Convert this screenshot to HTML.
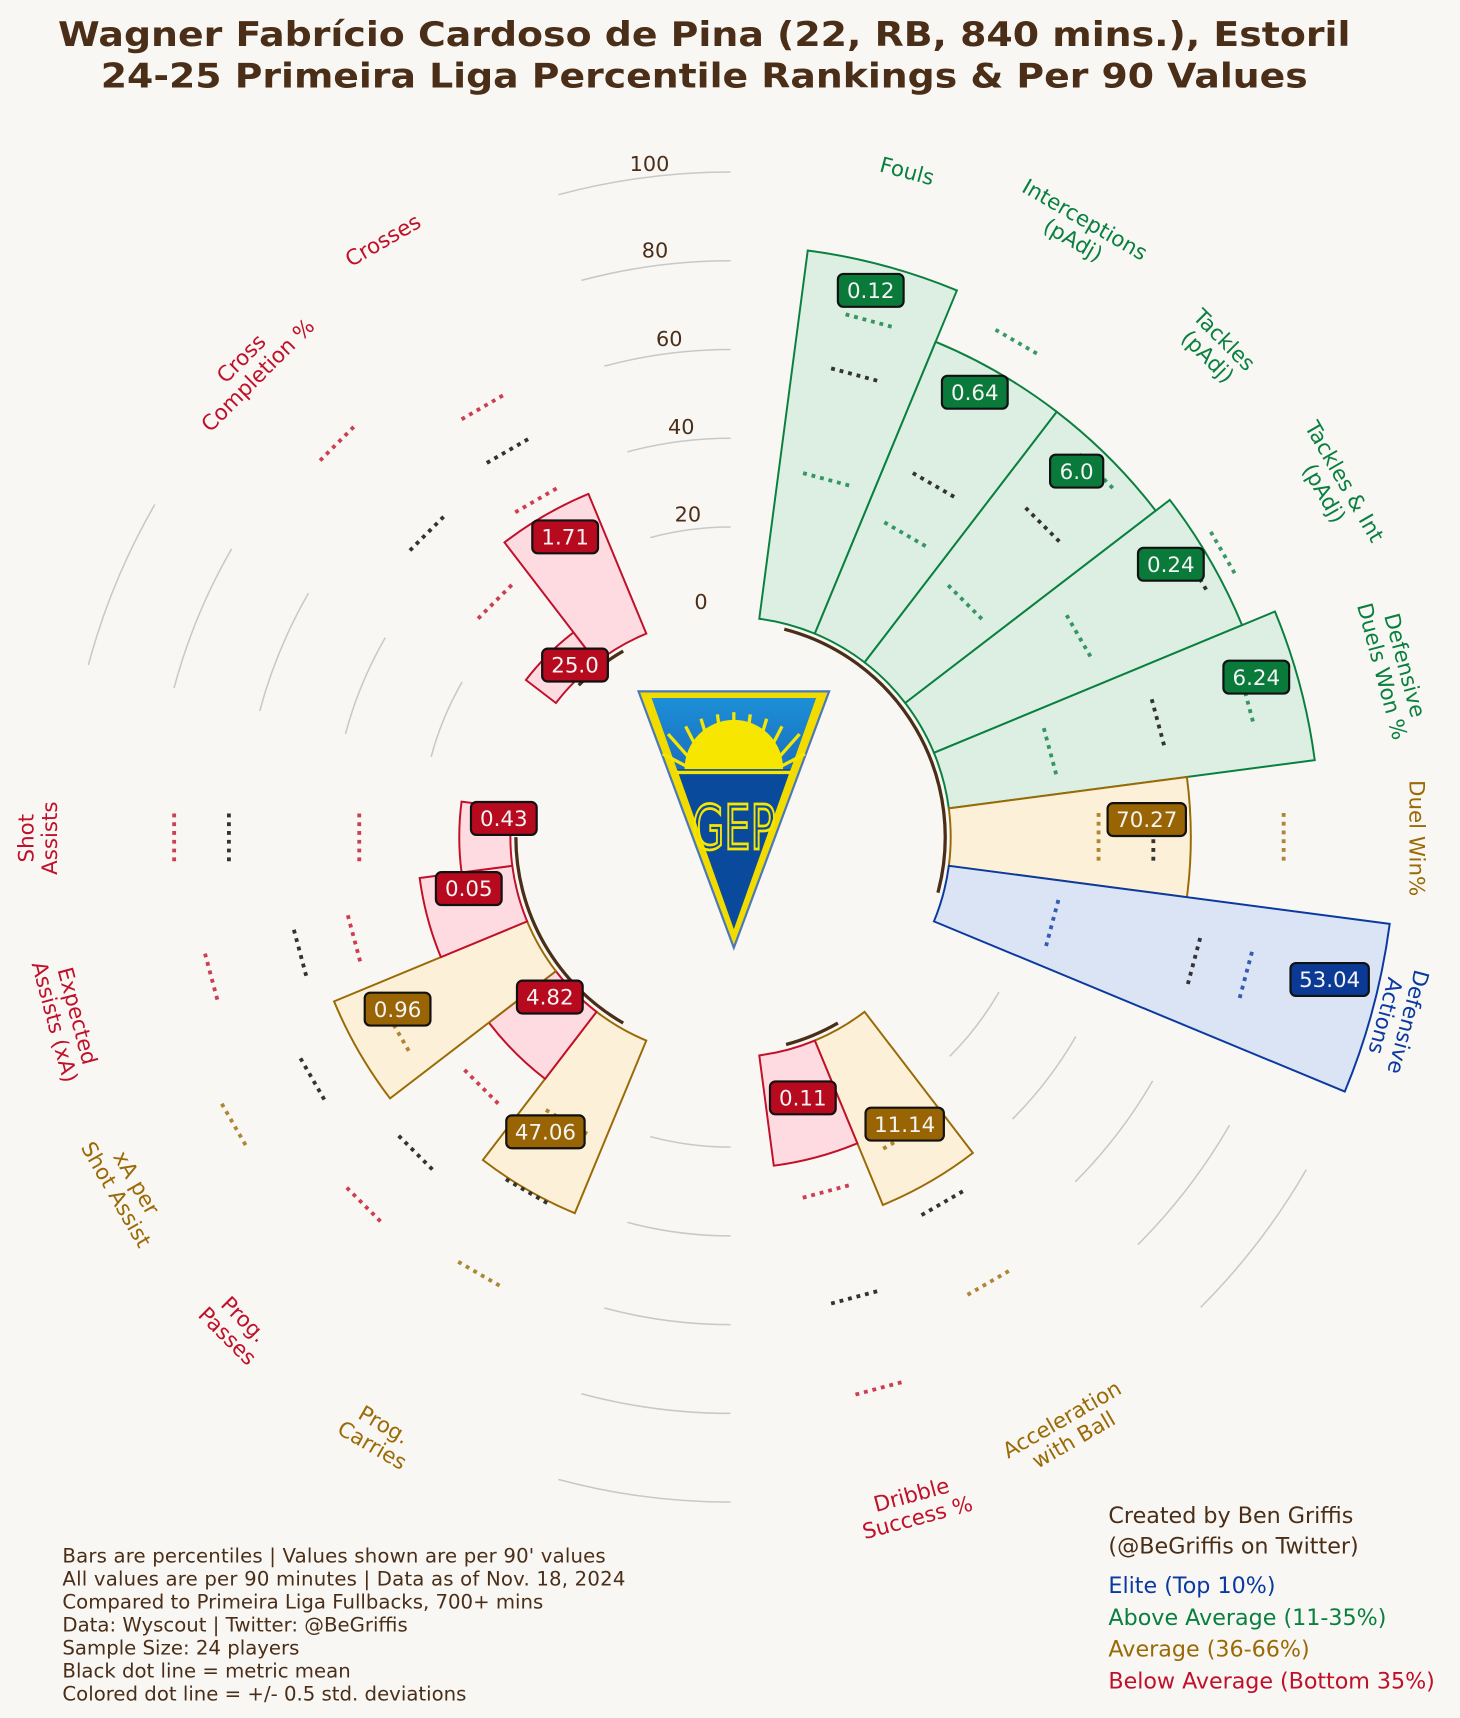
<!DOCTYPE html>
<html><head><meta charset="utf-8"><style>
html,body{margin:0;padding:0;background:#f9f7f3;width:1460px;height:1718px;overflow:hidden}
svg{display:block}
text{font-family:"DejaVu Sans","Liberation Sans",sans-serif}
</style></head><body>
<svg id="s" width="1460" height="1718" viewBox="0 0 1333 1568" preserveAspectRatio="none" xmlns="http://www.w3.org/2000/svg">
<defs>
<linearGradient id="bg1" x1="0" y1="0" x2="0" y2="1"><stop offset="0" stop-color="#1c8fd6"/><stop offset="1" stop-color="#1a6fc0"/></linearGradient>
</defs>
<rect width="1333" height="1568" fill="#f9f7f3"/>
<g id="grid"></g>
<g id="bars"></g>
<g id="dots"></g>
<g id="arcs"></g>
<!-- badge -->
<g>
<polygon points="583,631 757,631 670,865" fill="#f2dc00" stroke="#4a78b8" stroke-width="2"/>
<polygon points="595,637 745,637 670,848" fill="#0a4a9c"/>
<polygon points="595,637 745,637 722,702 618,702" fill="url(#bg1)"/>
<path d="M625,702 A45,45 0 0 1 715,702 Z" fill="#f7e600"/>
<g stroke="#f7e600" stroke-width="3">
<line x1="670" y1="650" x2="670" y2="690"/><line x1="655" y1="652" x2="660" y2="690"/><line x1="685" y1="652" x2="680" y2="690"/>
<line x1="640" y1="656" x2="651" y2="692"/><line x1="700" y1="656" x2="689" y2="692"/>
<line x1="626" y1="663" x2="642" y2="694"/><line x1="714" y1="663" x2="698" y2="694"/>
<line x1="610" y1="670" x2="634" y2="697"/><line x1="730" y1="670" x2="706" y2="697"/>
<line x1="605" y1="688" x2="628" y2="700"/><line x1="735" y1="688" x2="712" y2="700"/>
</g>
<line x1="618" y1="705" x2="722" y2="705" stroke="#f7e600" stroke-width="3"/>
<text x="670" y="775" text-anchor="middle" font-size="56" fill="none" stroke="#f7e600" stroke-width="2.5" textLength="76" lengthAdjust="spacingAndGlyphs">GEP</text>
</g>
<g id="vals"></g>
<!-- title -->
<text x="643" y="42" text-anchor="middle" font-size="31" font-weight="bold" fill="#4a2e18" textLength="1180" lengthAdjust="spacingAndGlyphs">Wagner Fabrício Cardoso de Pina (22, RB, 840 mins.), Estoril</text>
<text x="643" y="80" text-anchor="middle" font-size="31" font-weight="bold" fill="#4a2e18" textLength="1102" lengthAdjust="spacingAndGlyphs">24-25 Primeira Liga Percentile Rankings &amp; Per 90 Values</text>
<!-- ticks -->
<g font-size="19" fill="#4a2e18" text-anchor="middle">
<text x="593" y="156">100</text><text x="598" y="235">80</text><text x="611" y="316">60</text><text x="622" y="396">40</text><text x="628" y="476">20</text><text x="640" y="556">0</text>
</g>
<!-- metric labels -->
<g font-size="19.5" text-anchor="middle" dominant-baseline="central">
<text transform="translate(828,157) rotate(15)" fill="#0a8040">Fouls</text>
<text transform="translate(985,210) rotate(30)" fill="#0a8040"><tspan x="0" dy="-0.55em">Interceptions</tspan><tspan x="0" dy="1.1em">(pAdj)</tspan></text>
<text transform="translate(1110,318) rotate(45)" fill="#0a8040"><tspan x="0" dy="-0.55em">Tackles</tspan><tspan x="0" dy="1.1em">(pAdj)</tspan></text>
<text transform="translate(1218,445) rotate(60)" fill="#0a8040"><tspan x="0" dy="-0.55em">Tackles &amp; Int</tspan><tspan x="0" dy="1.1em">(pAdj)</tspan></text>
<text transform="translate(1272,610) rotate(75)" fill="#0a8040"><tspan x="0" dy="-0.55em">Defensive</tspan><tspan x="0" dy="1.1em">Duels Won %</tspan></text>
<text transform="translate(1293,765) rotate(90)" fill="#9a6a06">Duel Win%</text>
<text transform="translate(1275,930) rotate(105)" fill="#0a3aa0"><tspan x="0" dy="-0.55em">Defensive</tspan><tspan x="0" dy="1.1em">Actions</tspan></text>
<text transform="translate(975,1305) rotate(-30)" fill="#9a6a06"><tspan x="0" dy="-0.55em">Acceleration</tspan><tspan x="0" dy="1.1em">with Ball</tspan></text>
<text transform="translate(835,1375) rotate(-15)" fill="#c0102a"><tspan x="0" dy="-0.55em">Dribble</tspan><tspan x="0" dy="1.1em">Success %</tspan></text>
<text transform="translate(345,1310) rotate(30)" fill="#9a6a06"><tspan x="0" dy="-0.55em">Prog.</tspan><tspan x="0" dy="1.1em">Carries</tspan></text>
<text transform="translate(215,1212) rotate(45)" fill="#c0102a"><tspan x="0" dy="-0.55em">Prog.</tspan><tspan x="0" dy="1.1em">Passes</tspan></text>
<text transform="translate(115,1085) rotate(60)" fill="#9a6a06"><tspan x="0" dy="-0.55em">xA per</tspan><tspan x="0" dy="1.1em">Shot Assist</tspan></text>
<text transform="translate(60,930) rotate(75)" fill="#c0102a"><tspan x="0" dy="-0.55em">Expected</tspan><tspan x="0" dy="1.1em">Assists (xA)</tspan></text>
<text transform="translate(35,765) rotate(-90)" fill="#c0102a"><tspan x="0" dy="-0.55em">Shot</tspan><tspan x="0" dy="1.1em">Assists</tspan></text>
<text transform="translate(228,335) rotate(-45)" fill="#c0102a"><tspan x="0" dy="-0.55em">Cross</tspan><tspan x="0" dy="1.1em">Completion %</tspan></text>
<text transform="translate(350,220) rotate(-30)" fill="#c0102a">Crosses</text>
</g>
<!-- footer -->
<g font-size="18" fill="#4a2e18">
<text x="57" y="1426" textLength="496">Bars are percentiles | Values shown are per 90' values</text>
<text x="57" y="1447" textLength="514">All values are per 90 minutes | Data as of Nov. 18, 2024</text>
<text x="57" y="1468">Compared to Primeira Liga Fullbacks, 700+ mins</text>
<text x="57" y="1489">Data: Wyscout | Twitter: @BeGriffis</text>
<text x="57" y="1510">Sample Size: 24 players</text>
<text x="57" y="1531">Black dot line = metric mean</text>
<text x="57" y="1552">Colored dot line = +/- 0.5 std. deviations</text>
</g>
<g font-size="20.3">
<text x="1012" y="1390" fill="#4a2e18">Created by Ben Griffis</text>
<text x="1012" y="1418" fill="#4a2e18">(@BeGriffis on Twitter)</text>
<text x="1012" y="1454" fill="#0a3aa0">Elite (Top 10%)</text>
<text x="1012" y="1483" fill="#0a8040">Above Average (11-35%)</text>
<text x="1012" y="1512" fill="#9a6a06">Average (36-66%)</text>
<text x="1012" y="1541" fill="#c0102a" textLength="298">Below Average (Bottom 35%)</text>
</g>
</svg>
<script>
var NS="http://www.w3.org/2000/svg",cx=667,cy=764,R0=201,K=4.06;
var C={g:["#0a8040","#dcefe2"],r:["#c0102a","#fddbe0"],y:["#9a6a06","#fdf0d8"],b:["#0a3aa0","#dbe4f5"]};
function el(p,t,a){var e=document.createElementNS(NS,t);for(var k in a)e.setAttribute(k,a[k]);document.getElementById(p).appendChild(e);return e;}
function pt(r,d){var a=d*Math.PI/180;return [cx+r*Math.cos(a),cy+r*Math.sin(a)];}
function arc(r,a1,a2){var p=pt(r,a1),q=pt(r,a2);return "M"+p[0]+","+p[1]+" A"+r+","+r+" 0 0 1 "+q[0]+","+q[1];}
[[-105,-90],[30,45],[90,105],[195,210]].forEach(function(g){[283,364,445,526,607].forEach(function(r){el("grid","path",{d:arc(r,g[0],g[1]),fill:"none",stroke:"#c8c8c8","stroke-width":1.4});});});
var B=[[-75,83.5,"g","0.12",795,265,[488,437,338]],[-60,71,"g","0.64",890,358,[522,371,319]],[-45,71,"g","6.0",983,430,[472,403,303]],
[-30,75,"g","0.24",1069,515,[519,489,367]],[-15,83,"g","6.24",1147,618,[488,404,302]],[0,54,"y","70.27",1047,748,[505,386,336]],
[15,100,"b","53.04",1214,894,[487,438,304]],[60,40,"y","11.14",826,1026,[470,386,316]],[75,25,"r","0.11",733,1002,[521,435,335]],
[120,42,"y","47.06",498,1033,[460,373,300]],[135,19,"r","4.82",502,910,[474,407,322]],[150,47,"y","0.96",363,921,[524,441,352]],
[165,21,"r","0.05",428,811,[491,407,356]],[180,11.5,"r","0.43",460,747,[508,458,339]],[225,8.5,"r","25.0",525,607,[508,392,304]],
[240,34,"r","1.71",516,490,[453,407,355]]];
B.forEach(function(b){var th=b[0],r1=R0+K*b[1],c=C[b[2]];var a1=th-7.5,a2=th+7.5;var p1=pt(R0,a1),p2=pt(r1,a1),p3=pt(r1,a2),p4=pt(R0,a2);
el("bars","path",{d:"M"+p1+" L"+p2+" A"+r1+","+r1+" 0 0 1 "+p3+" L"+p4+" A"+R0+","+R0+" 0 0 0 "+p1+"Z",fill:c[1],stroke:c[0],"stroke-width":1.8});
b[6].forEach(function(r,i){var p=pt(r,th),a=th*Math.PI/180,tx=-Math.sin(a)*22,ty=Math.cos(a)*22;
el("dots","line",{x1:p[0]-tx,y1:p[1]-ty,x2:p[0]+tx,y2:p[1]+ty,stroke:i==1?"#333":c[0],"stroke-opacity":i==1?1:0.8,"stroke-width":3.5,"stroke-dasharray":"3.5,4.5"});});
var w=b[3].length*11.5+14;el("vals","rect",{x:b[4]-w/2,y:b[5]-15,width:w,height:30,rx:5,fill:b[2]=="b"?"#0a3a96":(b[2]=="g"?"#0a7a3a":(b[2]=="y"?"#986404":"#b80a1e")),stroke:"#111","stroke-width":2});
var t=el("vals","text",{x:b[4],y:b[5]+7,"text-anchor":"middle","font-size":19.5,fill:"#f3f3f3"});t.textContent=b[3];});
[[-75.5,15],[120,180],[225,240],[60,75]].forEach(function(g){el("arcs","path",{d:arc(196,g[0],g[1]),fill:"none",stroke:"#4a2e18","stroke-width":3});});
</script>
</body></html>
